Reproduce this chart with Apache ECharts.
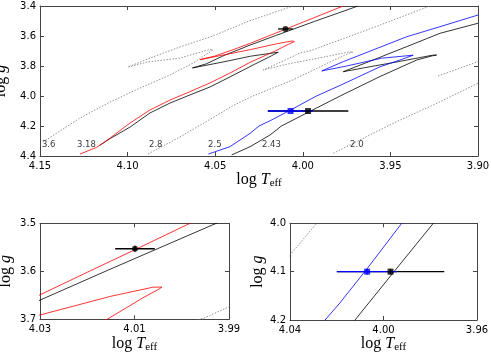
<!DOCTYPE html>
<html><head><meta charset="utf-8">
<script src="https://cdn.jsdelivr.net/npm/echarts@6/dist/echarts.min.js"></script>
<style>html,body{margin:0;padding:0;background:#fff}#c{width:491px;height:355px}</style>
</head><body><div id="c"></div>
<script>
// ---- data: evolutionary tracks, [log Teff, log g] ----
const track318Red = [[4.1272,4.387],[4.1176,4.342],[4.1100,4.280],[4.0986,4.180],[4.0872,4.093],[4.0758,4.027],[4.0644,3.971],[4.0530,3.913],[4.0416,3.847],[4.0300,3.775],[4.0158,3.700],[4.0080,3.654],[4.0048,3.637],[4.0042,3.633],[4.0060,3.633],[4.0150,3.652],[4.0300,3.691],[4.0450,3.726],[4.0587,3.758],[4.0590,3.762],[4.0500,3.733],[4.0400,3.692],[4.0300,3.649],[4.0200,3.602],[4.0099,3.555],[3.9990,3.5035],[3.9880,3.452],[3.9770,3.400]];
const track318Black = [[4.1160,4.330],[4.1100,4.284],[4.0986,4.207],[4.0872,4.113],[4.0758,4.047],[4.0644,3.993],[4.0530,3.940],[4.0416,3.873],[4.0273,3.787],[4.0180,3.733],[4.0140,3.708],[4.0132,3.703],[4.0150,3.702],[4.0300,3.735],[4.0450,3.772],[4.0630,3.813],[4.0636,3.817],[4.0550,3.785],[4.0450,3.730],[4.0300,3.660],[4.0150,3.595],[3.9934,3.503],[3.9810,3.452],[3.9685,3.400]];
const track25Blue = [[4.0539,4.387],[4.0416,4.338],[4.0301,4.249],[4.0250,4.200],[4.0187,4.165],[4.0072,4.095],[3.9922,4.000],[3.9788,3.930],[3.9559,3.805],[3.9450,3.762],[3.9370,3.728],[3.9360,3.722],[3.9380,3.720],[3.9550,3.748],[3.9750,3.800],[3.9892,3.833],[3.9895,3.836],[3.9769,3.771],[3.9599,3.693],[3.9407,3.605],[3.9217,3.538],[3.9000,3.460]];
const track243Black = [[4.0406,4.393],[4.0301,4.338],[4.0187,4.260],[4.0122,4.200],[3.9970,4.109],[3.9787,4.000],[3.9559,3.870],[3.9350,3.760],[3.9260,3.732],[3.9236,3.727],[3.9260,3.728],[3.9450,3.770],[3.9650,3.812],[3.9769,3.838],[3.9772,3.841],[3.9599,3.760],[3.9407,3.671],[3.9217,3.582],[3.9000,3.515]];
const track36Dotted = [[4.1483,4.307],[4.1272,4.147],[4.1100,4.040],[4.0929,3.947],[4.0758,3.860],[4.0615,3.773],[4.0513,3.693],[4.0530,3.690],[4.0701,3.747],[4.0884,3.773],[4.0998,3.807],[4.0872,3.747],[4.0701,3.673],[4.0513,3.600],[4.0307,3.500],[4.0056,3.400]];
const track28Dotted = [[4.0884,4.387],[4.0701,4.273],[4.0550,4.170],[4.0400,4.0655],[4.0286,4.000],[4.0056,3.893],[3.9845,3.773],[3.9730,3.712],[3.9713,3.707],[3.9740,3.707],[3.9900,3.745],[4.0100,3.790],[4.0227,3.827],[4.0230,3.830],[4.0100,3.760],[4.0016,3.713],[3.9954,3.698],[3.9900,3.674],[3.9600,3.545],[3.9274,3.400]];
const track20Dotted = [[3.9826,4.382],[3.9674,4.293],[3.9445,4.160],[3.9255,4.060],[3.9000,3.915]];
const track20DottedLoop = [[3.9228,3.867],[3.9000,3.771]];
// track mass labels
const trackLabels = ['3.6','3.18','2.8','2.5','2.43','2.0'];
const trackLabelT = [4.1489,4.1289,4.0878,4.0541,4.0233,3.9730];
const trackLabelG = [4.322,4.322,4.322,4.322,4.322,4.322];
// observed stars
const circT = [4.0099], circG = [3.553], circErrT = [0.0042], circErrG = [0.006];
const sqT = [3.997, 4.007], sqG = [4.100, 4.100], sqErrT = [0.023, 0.0128], sqErrG = [0.006, 0.006];
const sqColors = ['#000000', '#0000ff'];
// axes: [min, max, interval, decimals]
const xR = [[3.90,4.15,0.05,2],[3.99,4.03,0.02,2],[3.96,4.04,0.04,2]];
const yR = [[3.4,4.4,0.2,1],[3.5,3.7,0.1,1],[4.0,4.2,0.1,1]];

const grids = [
  {left:40, top:6, width:438, height:150, outerBoundsMode:'none'},
  {left:40, top:223.3, width:189, height:96, outerBoundsMode:'none'},
  {left:290, top:223.3, width:187, height:96.7, outerBoundsMode:'none'}
];
const axisCol = '#444';
const serif = 'Liberation Serif';
const xName = '{a|log }{b|T}{c|eff}';
const yName = '{a|log }{b|g}';
const richN = {
  a:{fontFamily:serif,fontSize:16,color:'#000'},
  b:{fontFamily:serif,fontSize:16,fontStyle:'italic',color:'#000'},
  c:{fontFamily:serif,fontSize:11,color:'#000',padding:[7,0,0,0]}
};
const xAxis=[], yAxis=[];
grids.forEach((g,i)=>{
  const [xmin,xmax,xi,xd]=xR[i];
  const [ymin,ymax,yi,yd]=yR[i];
  const common = {type:'value',gridIndex:i,inverse:true,
    axisLine:{show:true,onZero:false,lineStyle:{color:axisCol,width:1}},
    axisTick:{show:true,inside:true,length:4,lineStyle:{color:axisCol,width:1}},
    splitLine:{show:false}};
  xAxis.push(Object.assign({},common,{min:xmin,max:xmax,interval:xi,position:'bottom',
    axisLabel:{show:true,margin:5,fontSize:10,fontFamily:'DejaVu Sans',color:'#000',showMinLabel:true,showMaxLabel:true,formatter:v=>v.toFixed(xd)},
    name:xName,nameLocation:'middle',nameGap:15,nameTextStyle:{rich:richN}}));
  xAxis.push(Object.assign({},common,{min:xmin,max:xmax,interval:xi,position:'top',axisLabel:{show:false}}));
  yAxis.push(Object.assign({},common,{min:ymin,max:ymax,interval:yi,position:'left',
    axisLabel:{show:true,margin:4,fontSize:10,fontFamily:'DejaVu Sans',color:'#000',showMinLabel:true,showMaxLabel:true,formatter:v=>v.toFixed(yd)},
    name:yName,nameLocation:'middle',nameGap:i===2?20:26,nameRotate:90,nameTextStyle:{rich:richN}}));
  yAxis.push(Object.assign({},common,{min:ymin,max:ymax,interval:yi,position:'right',axisLabel:{show:false}}));
});

const tracks = [
  {d:track36Dotted,c:'#777',w:0.8,t:[1.5,1.5]},
  {d:track28Dotted,c:'#777',w:0.8,t:[1.5,1.5]},
  {d:track20Dotted,c:'#777',w:0.8,t:[1.5,1.5]},
  {d:track20DottedLoop,c:'#777',w:0.8,t:[1.5,1.5]},
  {d:track318Black,c:'#000',w:0.8,t:'solid'},
  {d:track318Red,c:'#ff0000',w:0.8,t:'solid'},
  {d:track243Black,c:'#000',w:0.8,t:'solid'},
  {d:track25Blue,c:'#0000ff',w:0.8,t:'solid'}
];
function errBar(params, api){
  const x=api.value(0), y=api.value(1), ex=api.value(2), ey=api.value(3), ci=api.value(4);
  const col = ci===1 ? '#0000ff' : '#000000';
  const l=api.coord([x-ex,y]), r=api.coord([x+ex,y]), t=api.coord([x,y-ey]), b=api.coord([x,y+ey]);
  return {type:'group',children:[
    {type:'line',shape:{x1:l[0],y1:l[1],x2:r[0],y2:r[1]},style:{stroke:col,lineWidth:1.3}},
    {type:'line',shape:{x1:t[0],y1:t[1],x2:b[0],y2:b[1]},style:{stroke:col,lineWidth:1.3}}
  ]};
}
const series=[];
grids.forEach((g,i)=>{
  tracks.forEach(tr=>{
    series.push({type:'line',xAxisIndex:2*i,yAxisIndex:2*i,data:tr.d,showSymbol:false,symbol:'none',clip:true,silent:true,
      lineStyle:{color:tr.c,width:tr.w,type:tr.t},animation:false,z:2});
  });
  if(i===0||i===1){
    series.push({type:'custom',xAxisIndex:2*i,yAxisIndex:2*i,renderItem:errBar,clip:true,silent:true,animation:false,z:5,
      data:circT.map((t,k)=>[t,circG[k],circErrT[k],circErrG[k],0])});
    series.push({type:'scatter',xAxisIndex:2*i,yAxisIndex:2*i,symbol:'circle',symbolSize:6,silent:true,animation:false,z:6,
      itemStyle:{color:'#000'},data:circT.map((t,k)=>[t,circG[k]])});
  }
  if(i===0||i===2){
    series.push({type:'custom',xAxisIndex:2*i,yAxisIndex:2*i,renderItem:errBar,clip:true,silent:true,animation:false,z:5,
      data:sqT.map((t,k)=>[t,sqG[k],sqErrT[k],sqErrG[k],k])});
    sqT.map((t,k)=>k).reverse().forEach(k=>{
      series.push({type:'scatter',xAxisIndex:2*i,yAxisIndex:2*i,symbol:'rect',symbolSize:6,silent:true,animation:false,z:6,
        itemStyle:{color:sqColors[k]},data:[[sqT[k],sqG[k]]]});
    });
  }
});
series.push({type:'scatter',xAxisIndex:0,yAxisIndex:0,symbolSize:0,silent:true,animation:false,z:7,
  data:trackLabels.map((s,k)=>({name:s,value:[trackLabelT[k],trackLabelG[k]]})),
  label:{show:true,position:'right',distance:0,formatter:p=>p.name,fontSize:8.5,fontFamily:'DejaVu Sans',color:'#000'}});

const chart = echarts.init(document.getElementById('c'),null,{renderer:'canvas'});
chart.setOption({animation:false,backgroundColor:'#fff',grid:grids,xAxis:xAxis,yAxis:yAxis,series:series});
</script></body></html>
